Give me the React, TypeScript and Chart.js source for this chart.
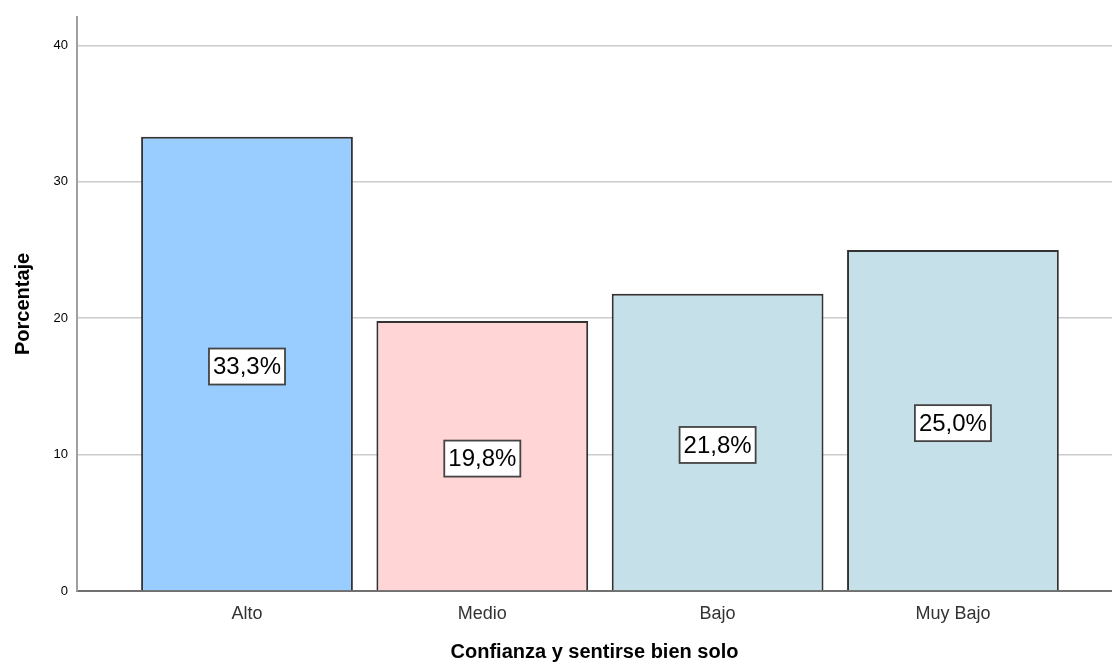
import React, { useEffect, useRef } from "react";
import { Chart, registerables } from "chart.js";

Chart.register(...registerables);

// Categories and their percentages
const categories = ["Alto", "Medio", "Bajo", "Muy Bajo"];
const percentages = [33.3, 19.8, 21.8, 25.0];
const barColors = ["#99CCFF", "#FFD5D5", "#C6E0EA", "#C6E0EA"];
const yTicks = [0, 10, 20, 30, 40];

const xTitle = "Confianza y sentirse bien solo";
const yTitle = "Porcentaje";

const FONT = "'Liberation Sans', Arial, sans-serif";

// Boxed percentage labels in the middle of each bar
const valueBoxes = {
  id: "valueBoxes",
  afterDatasetsDraw(chart: any) {
    const ctx = chart.ctx;
    const meta = chart.getDatasetMeta(0);
    ctx.save();
    ctx.font = `24px ${FONT}`;
    ctx.textAlign = "center";
    ctx.textBaseline = "middle";
    meta.data.forEach((bar: any, i: number) => {
      const text = percentages[i].toFixed(1).replace(".", ",") + "%";
      const cx = bar.x;
      const cy = (bar.y + bar.base) / 2 + 3;
      const w = ctx.measureText(text).width + 8;
      const h = 36;
      ctx.fillStyle = "#ffffff";
      ctx.fillRect(cx - w / 2, cy - h / 2, w, h);
      ctx.lineWidth = 1.8;
      ctx.strokeStyle = "#444444";
      ctx.strokeRect(cx - w / 2, cy - h / 2, w, h);
      ctx.fillStyle = "#000000";
      ctx.fillText(text, cx, cy + 1);
    });
    ctx.restore();
  },
};

export default function App() {
  const canvasRef = useRef<HTMLCanvasElement | null>(null);

  useEffect(() => {
    if (!canvasRef.current) return;
    const chart = new Chart(canvasRef.current, {
      type: "bar",
      data: {
        datasets: [
          {
            data: percentages.map((v, i) => ({ x: i, y: v })),
            backgroundColor: barColors,
            borderColor: "#333333",
            borderWidth: 2,
            barPercentage: 0.9,
            categoryPercentage: 1,
          },
        ],
      },
      options: {
        animation: false,
        responsive: false,
        layout: { padding: { top: 15, right: 0, left: 0, bottom: 0 } },
        plugins: {
          legend: { display: false },
          tooltip: { enabled: false },
        },
        scales: {
          x: {
            type: "linear",
            offset: false,
            min: -0.7224,
            max: 3.676,
            grid: { display: false },
            border: { display: true, color: "#707070", width: 2 },
            afterBuildTicks(scale: any) {
              scale.ticks = categories.map((_, i) => ({ value: i }));
            },
            ticks: {
              autoSkip: false,
              maxRotation: 0,
              padding: 4,
              color: "#333333",
              font: { family: FONT, size: 18 },
              callback: (v: any) => categories[Number(v)] ?? "",
            },
            title: {
              display: true,
              text: xTitle,
              color: "#000000",
              font: { family: FONT, size: 20, weight: "bold" },
              padding: { top: 0, bottom: 3 },
            },
            afterFit(scale: any) {
              scale.height = 76;
            },
          },
          y: {
            type: "linear",
            min: 0,
            max: 42.1,
            afterBuildTicks(scale: any) {
              scale.ticks = yTicks.map((v) => ({ value: v }));
            },
            grid: {
              color: "#cccccc",
              lineWidth: 1.5,
              drawTicks: false,
            },
            border: { display: true, color: "#a0a0a0", width: 2 },
            ticks: {
              padding: 9,
              color: "#000000",
              font: { family: FONT, size: 13 },
            },
            title: {
              display: true,
              text: yTitle,
              color: "#000000",
              font: { family: FONT, size: 20, weight: "bold" },
              padding: { top: 11, bottom: 0 },
            },
            afterFit(scale: any) {
              scale.width = 77;
            },
          },
        },
      },
      plugins: [valueBoxes],
    });
    return () => chart.destroy();
  }, []);

  return (
    <div
      style={{
        position: "fixed",
        left: 0,
        top: 0,
        width: 1112,
        height: 667,
        background: "#ffffff",
      }}
    >
      <canvas ref={canvasRef} width={1112} height={667} />
    </div>
  );
}
